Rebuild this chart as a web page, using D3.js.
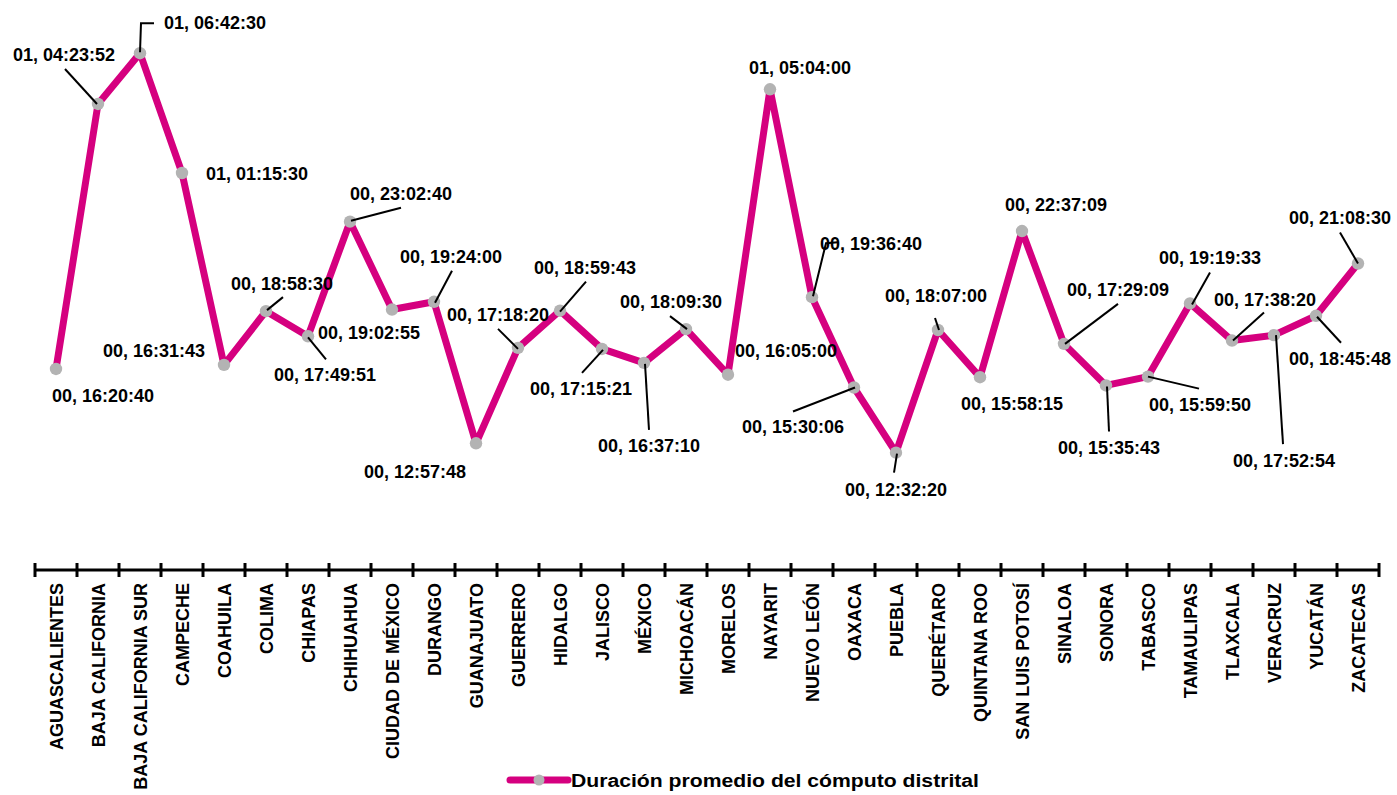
<!DOCTYPE html>
<html>
<head>
<meta charset="utf-8">
<script src="https://cdn.jsdelivr.net/npm/d3@7"></script>
<style>
  html, body { margin: 0; padding: 0; background: #fff; }
  svg { display: block; font-family: "Liberation Sans", Arial, sans-serif; }
</style>
</head>
<body>
<svg id="chart" width="1397" height="795"></svg>
<script>
// ---- data ----
const categories = ["AGUASCALIENTES","BAJA CALIFORNIA","BAJA CALIFORNIA SUR","CAMPECHE","COAHUILA","COLIMA","CHIAPAS","CHIHUAHUA","CIUDAD DE MÉXICO","DURANGO","GUANAJUATO","GUERRERO","HIDALGO","JALISCO","MÉXICO","MICHOACÁN","MORELOS","NAYARIT","NUEVO LEÓN","OAXACA","PUEBLA","QUERÉTARO","QUINTANA ROO","SAN LUIS POTOSÍ","SINALOA","SONORA","TABASCO","TAMAULIPAS","TLAXCALA","VERACRUZ","YUCATÁN","ZACATECAS"];
// duration labels "dd, hh:mm:ss"
const durations = ["00, 16:20:40","01, 04:23:52","01, 06:42:30","01, 01:15:30","00, 16:31:43","00, 18:58:30","00, 17:49:51","00, 23:02:40","00, 19:02:55","00, 19:24:00","00, 12:57:48","00, 17:18:20","00, 18:59:43","00, 17:15:21","00, 16:37:10","00, 18:09:30","00, 16:05:00","01, 05:04:00","00, 19:36:40","00, 15:30:06","00, 12:32:20","00, 18:07:00","00, 15:58:15","00, 22:37:09","00, 17:29:09","00, 15:35:43","00, 15:59:50","00, 19:19:33","00, 17:38:20","00, 17:52:54","00, 18:45:48","00, 21:08:30"];
const seriesName = "Duración promedio del cómputo distrital";
const yDomainDays = [0.3, 1.35];

// ---- layout for data labels (offsets from each point) ----
const labelOffsets = [[47,33],[-34,-43],[75,-24],[75,7],[-70,-8],[16,-21],[17,45],[51,-22],[-23,29],[17,-39],[-61,35],[-20,-27],[25,-37],[-21,46],[5,89],[-15,-21],[58,-18],[30,-15],[59,-47],[-61,46],[0,43],[-2,-28],[32,33],[34,-20],[54,-48],[3,69],[52,34],[20,-39],[33,-35],[10,132],[24,49],[-18,-40]];
const leaderPaths = [null,[[-33,-35],[-1,0]],[[14,-30],[1,-30],[0,-1]],null,null,[[17,-14],[1,-1]],[[0,1],[18,23]],[[1,-1],[51,-14]],null,[[18,-31],[1,1]],null,[[-20,-19],[0,1]],[[26,-29],[0,1]],[[1,1],[-20,24]],[[1,1],[5,67]],[[-16,-13],[1,0]],null,null,[[26,-55],[14,-54],[1,-1]],[[-61,24],[1,0]],[[1,1],[-2,20]],[[-3,-12],[1,0]],null,null,[[54,-40],[1,0]],[[1,1],[3,46]],[[0,0],[51,12]],[[20,-31],[2,1]],[[32,-28],[1,0]],[[2,0],[9,109]],[[1,1],[25,27]],[[-18,-31],[0,0]]];

function toDays(s) {
  const [d, t] = s.split(", ");
  const [h, m, sec] = t.split(":").map(Number);
  return Number(d) + (h * 3600 + m * 60 + sec) / 86400;
}
const values = durations.map(toDays);

const MAGENTA = "#D5007F", GREY = "#B3B3B3";
const svg = d3.select("#chart");

const x = d3.scaleBand().domain(categories).range([35, 1379]).padding(0);
const y = d3.scaleLinear().domain(yDomainDays).range([570, 16]);
const cx = c => x(c) + x.bandwidth() / 2;

// axis
const axisY = 570;
const axis = d3.axisBottom(x).tickSize(0).tickPadding(0);
const gAxis = svg.append("g").attr("transform", `translate(0,${axisY})`).call(axis);
gAxis.select(".domain").attr("stroke", "#000").attr("stroke-width", 3).attr("d", `M${x.range()[0]},0H${x.range()[1]}`);
gAxis.selectAll(".tick text")
  .attr("transform", "rotate(-90)")
  .attr("x", -13).attr("y", 6.5).attr("dy", 0)
  .attr("text-anchor", "end")
  .attr("fill", "#000")
  .style("font-size", "18px").style("font-weight", "bold");
const bounds = categories.map(c => x(c)).concat([x.range()[1]]);
gAxis.selectAll(".bnd").data(bounds).enter().append("line")
  .attr("x1", d => d).attr("x2", d => d).attr("y1", -7).attr("y2", 7)
  .attr("stroke", "#000").attr("stroke-width", 3);

// line
const line = d3.line().x((d, i) => cx(categories[i])).y(d => y(d));
svg.append("path").datum(values).attr("d", line)
  .attr("fill", "none").attr("stroke", MAGENTA).attr("stroke-width", 7)
  .attr("stroke-linejoin", "round").attr("stroke-linecap", "round");

// markers
svg.selectAll(".pt").data(values).enter().append("circle")
  .attr("cx", (d, i) => cx(categories[i])).attr("cy", d => y(d)).attr("r", 6.2)
  .attr("fill", GREY);

// leaders
values.forEach((v, i) => {
  const p = leaderPaths[i];
  if (!p) return;
  const px = cx(categories[i]), py = y(v);
  svg.append("path")
    .attr("d", d3.line()(p.map(q => [px + q[0], py + q[1]])))
    .attr("fill", "none").attr("stroke", "#000").attr("stroke-width", 2);
});

// data labels
svg.selectAll(".lbl").data(values).enter().append("text")
  .attr("x", (d, i) => cx(categories[i]) + labelOffsets[i][0])
  .attr("y", (d, i) => y(d) + labelOffsets[i][1])
  .attr("text-anchor", "middle")
  .style("font-size", "18px").style("font-weight", "bold").attr("fill", "#000")
  .text((d, i) => durations[i]);

// legend
const lg = svg.append("g");
lg.append("line").attr("x1", 510).attr("x2", 568).attr("y1", 780).attr("y2", 780)
  .attr("stroke", MAGENTA).attr("stroke-width", 7).attr("stroke-linecap", "round");
lg.append("circle").attr("cx", 539).attr("cy", 780).attr("r", 5.5).attr("fill", GREY);
lg.append("text").attr("x", 571).attr("y", 786.5)
  .style("font-size", "18px").style("font-weight", "bold").attr("fill", "#000")
  .attr("textLength", 408).attr("lengthAdjust", "spacingAndGlyphs")
  .text(seriesName);
</script>
</body>
</html>
